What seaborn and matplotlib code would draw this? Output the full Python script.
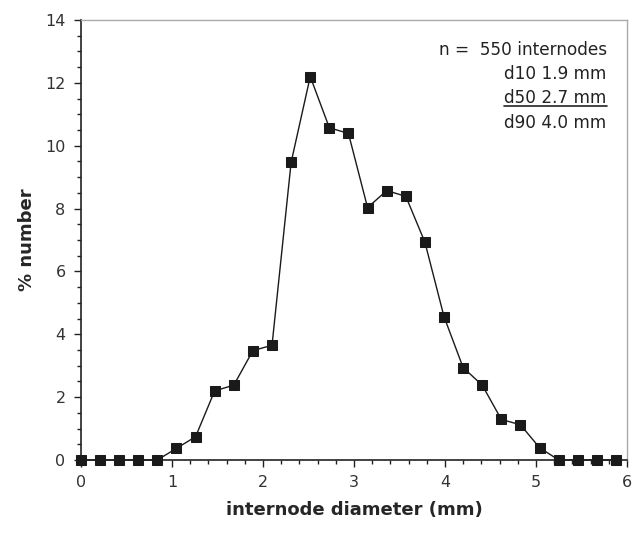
"""
Internode diameter distribution (% number)
"""

import matplotlib.pyplot as plt
import seaborn as sns
import numpy as np
import pandas as pd
from matplotlib.ticker import MultipleLocator

# bin centres (mm) and % number per bin
diameter = [0.0, 0.21, 0.42, 0.63, 0.84, 1.05, 1.26, 1.47, 1.68, 1.89,
            2.10, 2.31, 2.52, 2.73, 2.94, 3.15, 3.36, 3.57, 3.78, 3.99,
            4.20, 4.41, 4.62, 4.83, 5.04, 5.25, 5.46, 5.67, 5.88]
pct_number = [0, 0, 0, 0, 0, 0.37, 0.74, 2.2, 2.38, 3.48,
              3.65, 9.47, 12.2, 10.57, 10.39, 8.03, 8.57, 8.39, 6.93, 4.56,
              2.94, 2.38, 1.29, 1.12, 0.39, 0, 0, 0, 0]

stats_lines = ['n =  550 internodes', 'd10 1.9 mm', 'd50 2.7 mm', 'd90 4.0 mm']

df = pd.DataFrame({'diameter': diameter, 'pct': pct_number})

sns.set_style('white')
plt.rcParams['font.family'] = ['DejaVu Sans']

fig = plt.figure(figsize=(6.32, 5.33), dpi=100)
ax = fig.add_axes([0.128, 0.137, 0.864, 0.8255])

sns.lineplot(data=df, x='diameter', y='pct', ax=ax, color='#1a1a1a',
             linewidth=1.0, marker='s', markersize=7.5,
             markeredgecolor='#1a1a1a', markerfacecolor='#1a1a1a')
for ln in ax.lines:
    ln.set_clip_on(False)
    ln.set_zorder(5)

ax.set_xlim(0, 6)
ax.set_ylim(0, 14)
ax.xaxis.set_major_locator(MultipleLocator(1))
ax.xaxis.set_minor_locator(MultipleLocator(0.2))
ax.yaxis.set_major_locator(MultipleLocator(2))
ax.yaxis.set_minor_locator(MultipleLocator(0.5))
ax.tick_params(which='both', direction='out', color='#222222', width=1,
               bottom=True, left=True, top=False, right=False)
ax.tick_params(which='major', length=5, labelsize=11.5, labelcolor='#333333', pad=6)
ax.tick_params(which='minor', length=3)

for side in ['left', 'bottom']:
    ax.spines[side].set_color('#222222')
    ax.spines[side].set_linewidth(1.2)
for side in ['top', 'right']:
    ax.spines[side].set_color('#aaaaaa')
    ax.spines[side].set_linewidth(1.0)

ax.set_xlabel('internode diameter (mm)', fontsize=13, fontweight='bold', labelpad=8)
ax.set_ylabel('% number', fontsize=13, fontweight='bold', labelpad=7)

ys = [0.932, 0.877, 0.822, 0.767]
texts = []
for txt, yy in zip(stats_lines, ys):
    t = ax.text(0.963, yy, txt, transform=ax.transAxes, ha='right', va='center',
                fontsize=12.2, color='#222222')
    texts.append(t)

# underline the d50 line
fig.canvas.draw()
renderer = fig.canvas.get_renderer()
bb = texts[2].get_window_extent(renderer).transformed(ax.transAxes.inverted())
ax.plot([bb.x0, bb.x1], [bb.y0 + 0.002, bb.y0 + 0.002], transform=ax.transAxes,
        color='#222222', lw=1.2, clip_on=False)

plt.savefig('out.png', dpi=100)
